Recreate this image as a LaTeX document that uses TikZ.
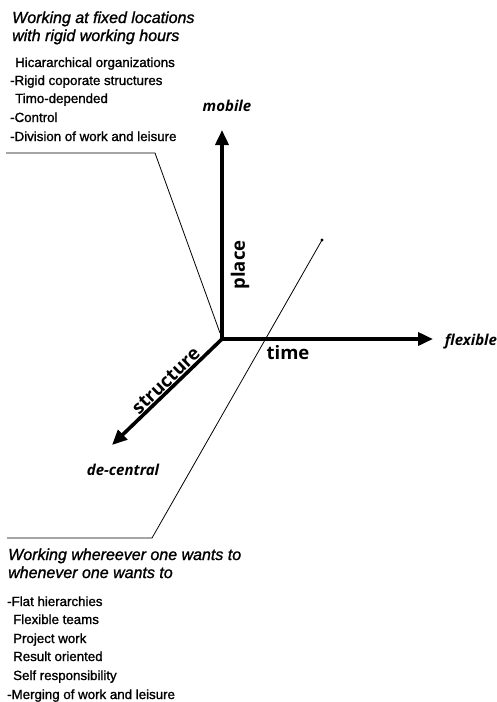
\documentclass[tikz,border=0pt]{standalone}
\usepackage{fontspec}
\setmainfont{Liberation Sans}
\newfontfamily\bodyfont[FakeBold=1.2]{Liberation Sans}
\newfontfamily\labfont{Open Sans}
\usetikzlibrary{arrows.meta}
\begin{document}
\begin{tikzpicture}[x=1pt,y=-1pt,
  axis/.style={line width=3.6pt, line cap=round, -{Triangle[length=15pt,width=13pt]}},
  leader/.style={line width=0.8pt},
  body/.style={anchor=base west, inner sep=0pt, font=\bodyfont\fontsize{13.3}{15}\selectfont},
  head/.style={anchor=base west, inner sep=0pt, font=\bodyfont\fontsize{16}{18}\selectfont\itshape},
  axlab/.style={inner sep=0pt, font=\labfont\bfseries\fontsize{18.5}{20}\selectfont},
  endlab/.style={inner sep=0pt, font=\labfont\bfseries\itshape\fontsize{15}{17}\selectfont}]
\useasboundingbox (0,0) rectangle (497,702);

% axes
\coordinate (O) at (222,339);
\coordinate (up) at (222,130);
\coordinate (right) at (433,339);
\coordinate (dl) at (112,445);
\draw[axis] (O) -- (up);
\draw[axis] (O) -- (right);
\draw[axis] (O) -- (dl);

% axis labels
\node[axlab, rotate=90] (place) at (240,265) {place};
\node[axlab] (time) at (288,353) {time};
\node[axlab, rotate=44] (structure) at (166,381) {structure};
\node[endlab] (mobile) at (227,106) {mobile};
\node[endlab] (flexible) at (471,342) {flexible};
\node[endlab] (decentral) at (123,470) {de-central};

% leader lines
\coordinate (t1) at (6,153);
\coordinate (t2) at (155,153);
\coordinate (t3) at (220,333);
\draw[leader] (t1) -- (t2) -- (t3);
\coordinate (b1) at (7,538);
\coordinate (b2) at (152,538);
\coordinate (b3) at (322,240);
\draw[leader] (b1) -- (b2) -- (b3);
\fill (b3) circle (1.6);

% top text
\node[head] (th1) at (12,23) {Working at fixed locations};
\node[head] (th2) at (12,41) {with rigid working hours};
\node[body] (tb1) at (15,67) {Hicararchical organizations};
\node[body] (tb2) at (10,85) {-Rigid coporate structures};
\node[body] (tb3) at (15,103) {Timo-depended};
\node[body] (tb4) at (10,122) {-Control};
\node[body] (tb5) at (10,141) {-Division of work and leisure};

% bottom text
\node[head] (bh1) at (8,560) {Working whereever one wants to};
\node[head] (bh2) at (8,578) {whenever one wants to};
\node[body] (bb1) at (7,606) {-Flat hierarchies};
\node[body] (bb2) at (13,624) {Flexible teams};
\node[body] (bb3) at (13,643) {Project work};
\node[body] (bb4) at (13,661) {Result oriented};
\node[body] (bb5) at (13,680) {Self responsibility};
\node[body] (bb6) at (7,699) {-Merging of work and leisure};
\end{tikzpicture}
\end{document}
